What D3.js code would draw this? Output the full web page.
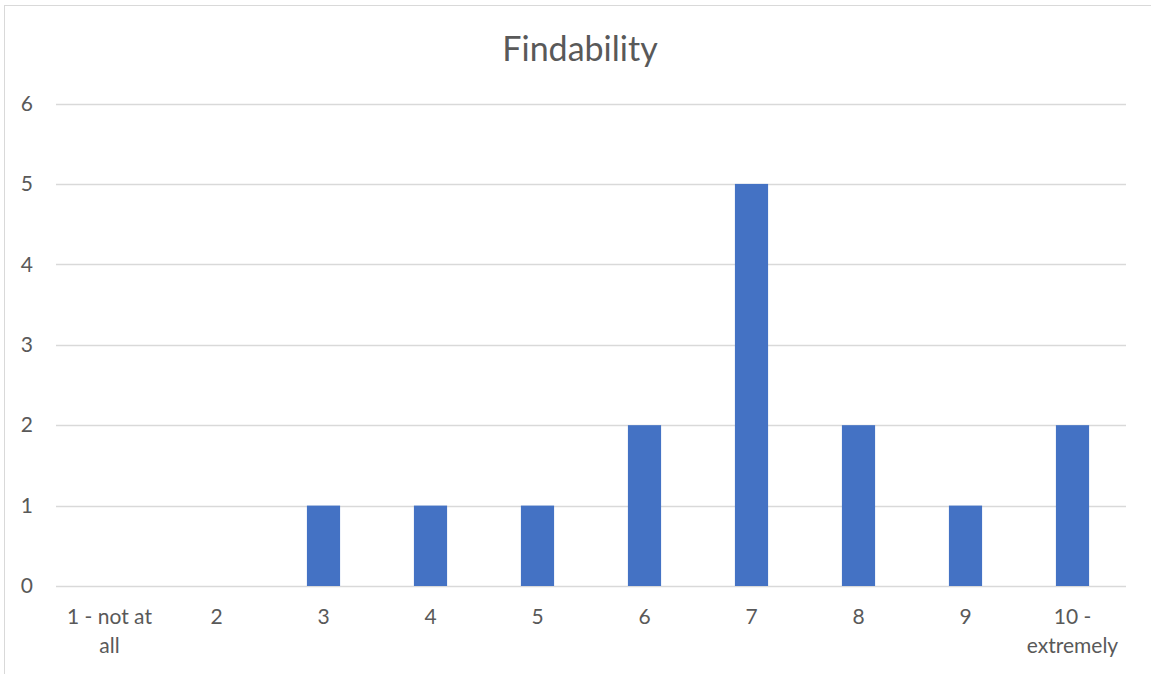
<!DOCTYPE html>
<html>
<head>
<meta charset="utf-8">
<script src="https://cdn.jsdelivr.net/npm/d3@7"></script>
<style>
  html, body { margin: 0; padding: 0; background: #fff; }
  svg { display: block; font-family: Lato, "Open Sans", sans-serif; }
</style>
</head>
<body>
<svg id="chart" width="1151" height="674"></svg>
<script>
const categories = ["1 - not at all", "2", "3", "4", "5", "6", "7", "8", "9", "10 - extremely"];
const categoryLines = [["1 - not at", "all"], ["2"], ["3"], ["4"], ["5"], ["6"], ["7"], ["8"], ["9"], ["10 -", "extremely"]];
const counts = [0, 0, 1, 1, 1, 2, 5, 2, 1, 2];
const yTicks = [0, 1, 2, 3, 4, 5, 6];
const title = "Findability";

const svg = d3.select("#chart");
const W = 1151, H = 674;
const FONT = "Lato, Open Sans, sans-serif";

// chart frame
svg.append("rect")
  .attr("x", 4.5).attr("y", 5.5)
  .attr("width", W + 10).attr("height", H + 10)
  .attr("fill", "#fff").attr("stroke", "#d9d9d9").attr("stroke-width", 1);

const plotLeft = 56, plotRight = 1126, plotTop = 103.5, plotBottom = 586;

const x = d3.scaleBand().domain(categories).range([plotLeft, plotRight]).paddingInner(0.69).paddingOuter(0.345);
const y = d3.scaleLinear().domain([0, 6]).range([plotBottom, plotTop]);

// gridlines
svg.append("g").selectAll("line").data(yTicks).join("line")
  .attr("x1", plotLeft).attr("x2", plotRight)
  .attr("y1", d => Math.round(y(d)) + 0.5).attr("y2", d => Math.round(y(d)) + 0.5)
  .attr("stroke", "#d9d9d9").attr("stroke-width", 1.3);

// y axis labels
const yAxis = d3.axisLeft(y).tickValues(yTicks).tickSize(0).tickPadding(0).tickFormat(d3.format("d"));
const gy = svg.append("g").attr("transform", "translate(33,0)").call(yAxis);
gy.select(".domain").remove();
gy.selectAll("text").attr("fill", "#595959").attr("font-size", 21).attr("font-family", FONT);

// bars
svg.append("g").selectAll("rect").data(counts).join("rect")
  .attr("x", (d, i) => x(categories[i]))
  .attr("width", x.bandwidth())
  .attr("y", d => y(d))
  .attr("height", d => y(0) - y(d))
  .attr("fill", "#4472c4");

// x axis labels, wrapped onto two lines where needed
const xAxis = d3.axisBottom(x).tickSize(0).tickPadding(0).tickFormat(() => "");
const gx = svg.append("g").attr("transform", `translate(0,${plotBottom})`).call(xAxis);
gx.select(".domain").remove();
gx.selectAll(".tick").each(function(d, i) {
  const t = d3.select(this).select("text")
    .attr("fill", "#595959").attr("font-size", 21)
    .attr("font-family", FONT)
    .attr("dy", null).attr("y", 0);
  t.selectAll("tspan").data(categoryLines[i]).join("tspan")
    .attr("x", 0)
    .attr("y", (s, j) => 38 + j * 29)
    .text(s => s);
});

// title
svg.append("text")
  .attr("x", 580).attr("y", 61)
  .attr("text-anchor", "middle")
  .attr("fill", "#595959").attr("font-size", 34)
  .attr("font-family", FONT)
  .text(title);
</script>
</body>
</html>
